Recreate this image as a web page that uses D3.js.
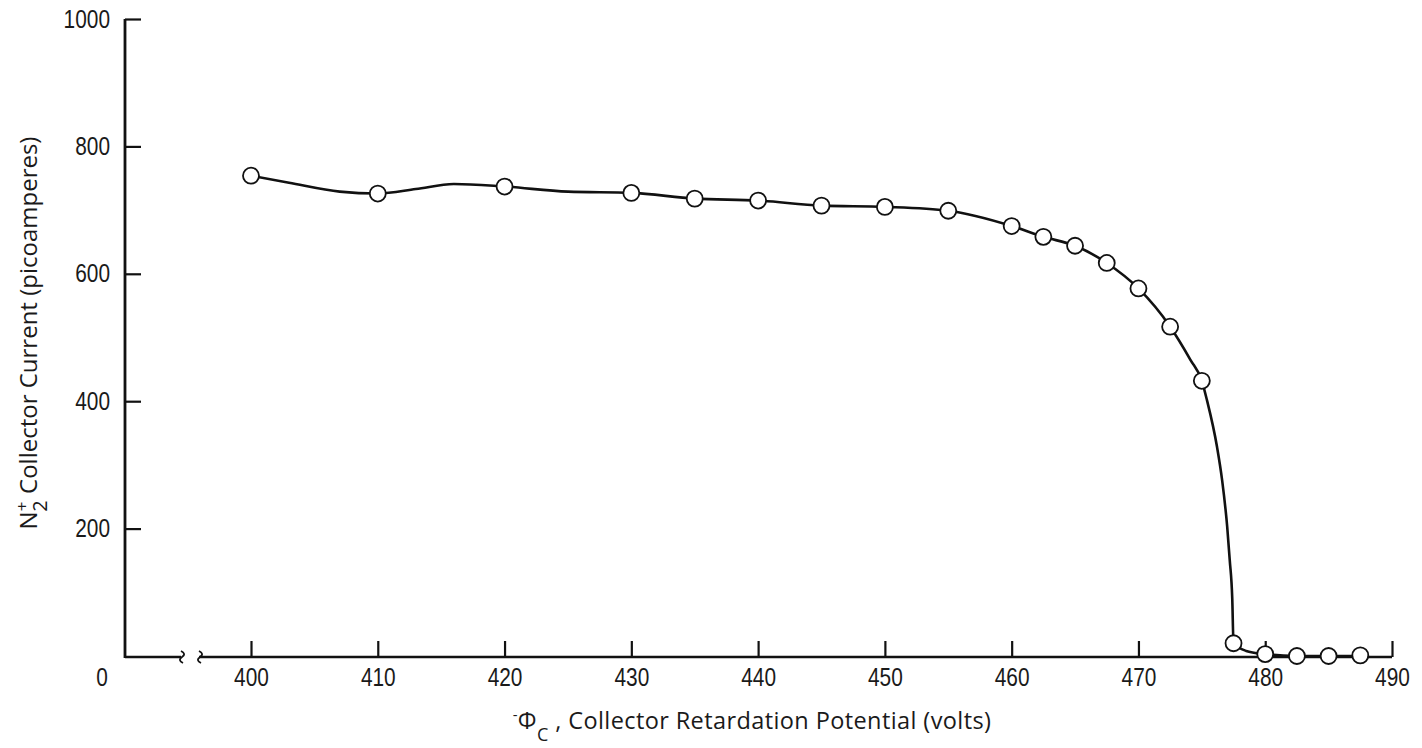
<!DOCTYPE html>
<html>
<head>
<meta charset="utf-8">
<script src="https://cdn.jsdelivr.net/npm/d3@7"></script>
<style>
  body { margin: 0; background: #fff; }
  text { fill: #1a1a1a; }
</style>
</head>
<body>
<div id="chart"></div>
<script>
// measured points
var voltage = [400, 410, 420, 430, 435, 440, 445, 450, 455, 460, 462.5, 465, 467.5, 470, 472.5, 475, 477.5, 480, 482.5, 485, 487.5];
var current = [754, 726, 737, 727, 718, 715, 707, 705, 699, 675, 658, 644, 617, 577, 517, 432, 20, 3, 0, 0, 1];

// faired curve as drawn through the points
var curveV = [400, 403, 407, 410, 413, 416, 420, 425, 430, 435, 440, 445, 450, 455, 460, 462.5, 465, 467.5, 470, 472.5, 474.1, 475, 475.4, 476.2, 476.6, 477, 477.2, 477.4, 477.5, 478.5, 480, 482.5, 487.5];
var curveI = [754, 743, 729, 726, 733, 741, 737, 729, 727, 718, 715, 707, 705, 699, 675, 658, 644, 617, 577, 517, 465, 432, 402, 328, 276, 203, 151, 90, 20, 8, 3, 0, 0];

var xTicks = [400, 410, 420, 430, 440, 450, 460, 470, 480, 490];
var yTicks = [200, 400, 600, 800, 1000];

var width = 1422, height = 748;
var axisX = 125, axisY = 657;
var ink = "#111";

var svg = d3.select("#chart").append("svg")
    .attr("width", width)
    .attr("height", height);

var x = d3.scaleLinear().domain([400, 490]).range([251, 1392]);
var y = d3.scaleLinear().domain([0, 1000]).range([656, 19]);

var tickFont = "'Liberation Sans Narrow', 'Liberation Sans', sans-serif";

// narrow digits like the original lettering
function styleTicks(sel) {
    sel.style("font-family", tickFont).style("font-size", "25px").attr("fill", "#1a1a1a")
        .attr("lengthAdjust", "spacingAndGlyphs")
        .attr("textLength", function() { return this.textContent.length * 11.6; });
}

// y axis
var gy = svg.append("g")
    .attr("transform", "translate(" + axisX + ",0)")
    .call(d3.axisLeft(y).tickValues(yTicks).tickFormat(d3.format("d"))
        .tickSizeInner(-16).tickSizeOuter(0).tickPadding(15));
gy.select(".domain").remove();
gy.selectAll(".tick line").attr("stroke", ink).attr("stroke-width", 2.2);
gy.selectAll(".tick text").call(styleTicks);
svg.append("line")
    .attr("x1", axisX).attr("x2", axisX)
    .attr("y1", y(1000)).attr("y2", axisY + 1)
    .attr("stroke", ink).attr("stroke-width", 2.8);

// x axis
var gx = svg.append("g")
    .attr("transform", "translate(0," + axisY + ")")
    .call(d3.axisBottom(x).tickValues(xTicks).tickFormat(d3.format("d"))
        .tickSizeInner(-16).tickSizeOuter(0).tickPadding(11));
gx.select(".domain").remove();
gx.selectAll(".tick line").attr("stroke", ink).attr("stroke-width", 2.2);
gx.selectAll(".tick text").call(styleTicks);

// baseline with break marks
var brk = svg.append("g").attr("fill", "none").attr("stroke", ink).attr("stroke-width", 2.4);
brk.append("path").attr("d", "M" + axisX + "," + axisY + " H181");
brk.append("path").attr("d", "M181,651 c4,2 4,4 1,6 c-3,2 -3,4 1,6").attr("stroke-width", 1.8);
brk.append("path").attr("d", "M199,651 c4,2 4,4 1,6 c-3,2 -3,4 1,6").attr("stroke-width", 1.8);
brk.append("path").attr("d", "M199," + axisY + " H" + x(490));

// origin label
svg.append("text")
    .attr("x", 102).attr("y", 677)
    .attr("text-anchor", "middle").attr("dy", "0.35em")
    .style("font-family", tickFont).style("font-size", "25px")
    .attr("lengthAdjust", "spacingAndGlyphs").attr("textLength", 11.6)
    .text("0");

// curve
var line = d3.line()
    .x(function(d) { return x(d[0]); })
    .y(function(d) { return y(d[1]); })
    .curve(d3.curveMonotoneX);

svg.append("path")
    .datum(d3.zip(curveV, curveI))
    .attr("d", line)
    .attr("fill", "none")
    .attr("stroke", ink)
    .attr("stroke-width", 2.6);

// points
svg.selectAll("circle.pt")
    .data(d3.zip(voltage, current))
    .enter()
    .append("circle")
        .attr("class", "pt")
        .attr("cx", function(d) { return x(d[0]); })
        .attr("cy", function(d) { return y(d[1]); })
        .attr("r", 8)
        .attr("fill", "#fff")
        .attr("stroke", ink)
        .attr("stroke-width", 1.8);

// axis titles
var labelFont = "'Open Sans', 'DejaVu Sans', sans-serif";

var yl = svg.append("text")
    .attr("transform", "translate(37,333) rotate(-90)")
    .attr("text-anchor", "middle")
    .style("font-family", labelFont)
    .style("font-size", "24px");
yl.append("tspan").text("N");
yl.append("tspan").attr("dy", -9).style("font-size", "17px").text("+");
yl.append("tspan").attr("dx", -10).attr("dy", 19).style("font-size", "20px").text("2");
yl.append("tspan").attr("dy", -10).text(" Collector Current (picoamperes)");

var xl = svg.append("text")
    .attr("x", 752).attr("y", 729)
    .attr("text-anchor", "middle")
    .style("font-family", labelFont)
    .style("font-size", "23.5px")
    .style("letter-spacing", "0.4px");
xl.append("tspan").attr("dy", -9).style("font-size", "15px").text("-");
xl.append("tspan").attr("dy", 9).text("\u03A6");
xl.append("tspan").attr("dy", 12).style("font-size", "18px").text("C");
xl.append("tspan").attr("dy", -12).text(" ,  Collector Retardation Potential (volts)");
</script>
</body>
</html>
